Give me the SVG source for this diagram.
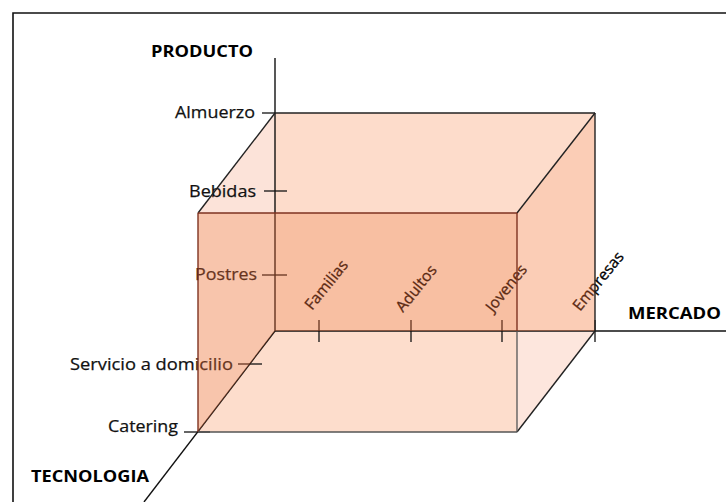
<svg xmlns="http://www.w3.org/2000/svg" width="726" height="502" viewBox="0 0 726 502">
<style>
.lbl{font-family:"Open Sans","Noto Sans","Liberation Sans",sans-serif;font-size:17px;fill:#111;stroke:#111;stroke-width:0.25}
.ax{font-family:"Open Sans","Noto Sans","Liberation Sans",sans-serif;font-size:16.5px;font-weight:bold;fill:#000}
.rot{font-family:"Open Sans","Noto Sans","Liberation Sans",sans-serif;font-size:15.5px;fill:#000;stroke:#000;stroke-width:0.3}
.axis{stroke:#111;stroke-width:1.4;fill:none}
.tick{stroke:#111;stroke-width:1.3;fill:none}
.edge{stroke:#222;stroke-width:1.4;fill:none}
.fedge{stroke:#7e3220;stroke-width:1.4;fill:none}
.ov{fill:#ff7239;fill-opacity:0.35}
</style>
<rect x="0" y="0" width="726" height="502" fill="#fff"/>
<path d="M13,502 V13 H726" stroke="#111" stroke-width="1.6" fill="none"/>
<g id="underlay">
<polygon points="275,113 595,113 517,213 275,213" fill="#fddccb"/>
<polygon points="275,113 198,213 275,213" fill="#fce3d9"/>
<polygon points="275,331 517,331 517,432 198,432" fill="#fdddcc"/>
<polygon points="517,331 595,331 517,432" fill="#fde6dd"/>
<polygon points="275,213 517,213 517,331 275,331" fill="#f5e8da"/>
<polygon points="198,213 275,213 275,331 198,432" fill="#f5f1ea"/>
<polygon points="595,113 595,331 517,331 517,213" fill="#f9fef9"/>
</g>
<g id="axes">
<line class="axis" x1="275" y1="58" x2="275" y2="331"/>
<line class="axis" x1="275" y1="331" x2="726" y2="331"/>
<line class="axis" x1="275" y1="331" x2="144" y2="502"/>
</g>
<g id="ticks">
<line class="tick" x1="262" y1="113" x2="275" y2="113"/>
<line class="tick" x1="264" y1="191" x2="287" y2="191"/>
<line class="tick" x1="262" y1="275" x2="287" y2="275"/>
<line class="tick" x1="238" y1="364" x2="262" y2="364"/>
<line class="tick" x1="184" y1="432" x2="210" y2="432"/>
<line class="tick" x1="319" y1="320" x2="319" y2="342"/>
<line class="tick" x1="411" y1="320" x2="411" y2="342"/>
<line class="tick" x1="502" y1="320" x2="502" y2="342"/>
<line class="tick" x1="595" y1="320" x2="595" y2="342"/>
</g>
<g id="labels">
<text class="ax" x="151" y="57" textLength="102" lengthAdjust="spacingAndGlyphs">PRODUCTO</text>
<text class="ax" x="628" y="319" textLength="93" lengthAdjust="spacingAndGlyphs">MERCADO</text>
<text class="ax" x="31" y="482" textLength="118" lengthAdjust="spacingAndGlyphs">TECNOLOGIA</text>
<text class="lbl" x="175" y="118" textLength="80" lengthAdjust="spacingAndGlyphs">Almuerzo</text>
<text class="lbl" x="189" y="197" textLength="67" lengthAdjust="spacingAndGlyphs">Bebidas</text>
<text class="lbl" x="195" y="280" textLength="62" lengthAdjust="spacingAndGlyphs">Postres</text>
<text class="lbl" x="70" y="370" textLength="163" lengthAdjust="spacingAndGlyphs">Servicio a domicilio</text>
<text class="lbl" x="108" y="432" textLength="70" lengthAdjust="spacingAndGlyphs">Catering</text>
<text class="rot" transform="translate(312,311) rotate(-51)">Familias</text>
<text class="rot" transform="translate(403,313) rotate(-51)">Adultos</text>
<text class="rot" transform="translate(493,313) rotate(-51)">Jovenes</text>
<text class="rot" transform="translate(580,312) rotate(-51)">Empresas</text>
</g>
<g id="overlay">
<polygon class="ov" points="275,213 517,213 517,331 275,331"/>
<polygon class="ov" points="198,213 275,213 275,331 198,432"/>
<polygon class="ov" points="595,113 595,331 517,331 517,213"/>
</g>
<g id="edges">
<line class="edge" x1="275" y1="113" x2="595" y2="113"/>
<line class="edge" x1="595" y1="113" x2="595" y2="331"/>
<line class="edge" x1="275" y1="113" x2="198" y2="213"/>
<line class="edge" x1="595" y1="113" x2="517" y2="213"/>
<line class="edge" x1="595" y1="331" x2="517" y2="432"/>
<line class="fedge" x1="198" y1="213" x2="517" y2="213"/>
<line class="fedge" x1="198" y1="213" x2="198" y2="432"/>
<line class="fedge" x1="517" y1="213" x2="517" y2="331"/>
<line x1="517" y1="331" x2="517" y2="432" stroke="#555" stroke-width="1.3"/>
<line x1="198" y1="432" x2="517" y2="432" stroke="#555" stroke-width="1.3"/>
</g>
</svg>
